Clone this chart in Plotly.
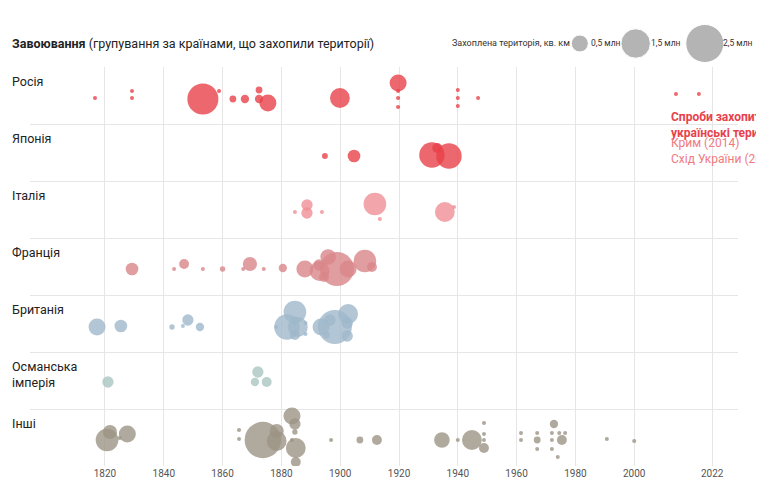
import plotly.graph_objects as go

rows = ["Росія", "Японія", "Італія", "Франція", "Британія", "Османська<br>імперія", "Інші"]
colors = ["#e8414a", "#e8414a", "#ef8f95", "#d9868a", "#9fb8cb", "#a9c6c2", "#9c9484"]

# (year, vertical offset in px from row baseline, area mln km2)
russia = [(1816.6,0,0.01),(1829.2,-7,0.02),(1829.2,0,0.02),(1853.3,1,1.67),(1858.8,-7,0.02),
          (1863.5,1,0.08),(1867.6,1,0.12),(1872.4,-8,0.08),(1872.4,1,0.12),(1875.4,5,0.5),
          (1899.9,0,0.68),(1919.7,-15,0.5),(1919.7,-7,0.03),(1919.7,0,0.03),(1919.7,9,0.03),
          (1940,-8,0.02),(1940,0,0.02),(1940,8,0.02),(1946.9,0,0.02),(2014.2,-4,0.02),(2022,-4,0.02)]
japan = [(1894.8,0,0.06),(1904.7,0,0.28),(1931.2,-1,1.12),(1933,-8,0.17),(1937,0,1.12)]
italy = [(1884.6,0,0.01),(1888.7,-7,0.22),(1888.7,1,0.22),(1893.8,0,0.01),(1911.8,-8,0.89),
         (1913.5,7,0.01),(1935.6,0,0.68),(1938.7,-5,0.03)]
france = [(1829.2,0,0.28),(1843.5,0,0.01),(1846.9,-5,0.17),(1853.3,0,0.01),(1860,0,0.05),
          (1867,0,0.01),(1869.3,-5,0.35),(1874,0,0.01),(1880.5,-1,0.12),(1888,0,0.5),
          (1892.8,-4,0.22),(1893,2,0.68),(1894.5,8,0.17),(1895.9,-12,0.42),(1898.9,0,2.0),
          (1902.7,0,0.5),(1908.4,-8,0.89),(1910.8,-2,0.17)]
britain = [(1817.3,0,0.5),(1825.4,-1,0.28),(1842.8,0,0.05),(1846.5,-1,0.01),(1848.2,-7,0.22),
           (1852.3,0,0.12),(1878.2,0,0.01),(1881.9,0,1.12),(1884.6,-15,0.89),(1884.6,-6,0.12),
           (1885.6,0,0.68),(1884.6,8,0.17),(1888.2,-4,0.02),(1888.2,7,0.03),(1893.5,0,0.5),
           (1896.5,-7,0.22),(1895.3,8,0.08),(1898.2,0,2.0),(1902.7,-13,0.68),(1902.4,-4,0.22),(1902.4,9,0.22)]
ottoman = [(1821,0,0.22),(1872,-10,0.22),(1871,0,0.12),(1875,0,0.17)]
others = [(1820.7,0,0.89),(1821.7,-8,0.35),(1825,-2,0.01),(1827.6,-6,0.5),(1865.6,-10,0.03),
          (1865.6,-1,0.02),(1873.7,0,2.3),(1878.4,-9,0.35),(1878.4,1,0.68),(1883.6,-24,0.5),
          (1884.6,-16,0.22),(1884.6,-8,0.05),(1883.6,0,0.03),(1884.9,8,0.68),(1884.9,22,0.17),
          (1886,35,0.05),(1896.9,0,0.01),(1906.7,0,0.08),(1912.5,0,0.17),(1934.6,0,0.42),
          (1940,0,0.02),(1944.8,0,0.68),(1948.9,-17,0.03),(1948.9,-6,0.02),(1948.9,0,0.005),(1948.9,8,0.17),
          (1961.5,-7,0.01),(1961.5,0,0.005),(1967,0,0.08),(1967,-7,0.005),(1967,9,0.01),(1972,-7,0.005),
          (1972,0,0.005),(1972.7,-16,0.12),(1975.4,0,0.17),(1974.5,-7,0.01),(1976.5,-7,0.01),
          (1972,9,0.01),(1974,17,0.005),(1990.7,-1,0.005),(2000,1,0.03)]
series = [russia, japan, italy, france, britain, ottoman, others]
baselines = [31, 32, 31, 31, 32, 30, 31]  # px from row top

xticks = [1820, 1840, 1860, 1880, 1900, 1920, 1940, 1960, 1980, 2000, 2026.5]
xticktext = ["1820", "1840", "1860", "1880", "1900", "1920", "1940", "1960", "1980", "2000", "2022"]
legend_vals = [0.5, 1.5, 2.5]
legend_labels = ["0,5 млн", "1,5 млн", "2,5 млн"]
legend_x = [1981.5, 2000.5, 2024]

ROWH = 57.0
SREF = 1 / 289.0
fig = go.Figure()
for i, s in enumerate(series):
    fig.add_trace(go.Scatter(
        x=[p[0] for p in s], y=[i + (baselines[i] + p[1]) / ROWH for p in s],
        mode="markers", hoverinfo="x",
        marker=dict(size=[p[2] for p in s], sizemode="area", sizeref=SREF, sizemin=2,
                    color=colors[i], opacity=0.8, line=dict(width=0)),
        showlegend=False))

fig.add_trace(go.Scatter(x=legend_x, y=[0.5] * 3, xaxis="x2", yaxis="y2", mode="markers",
                         marker=dict(size=legend_vals, sizemode="area", sizeref=SREF,
                                     color="#a8a8a8", opacity=0.85), showlegend=False,
                         hoverinfo="skip"))

ann = []
for i, r in enumerate(rows):
    ann.append(dict(x=0.0, xref="paper", xshift=-20, y=i + 0.08, yref="y", text=r, showarrow=False,
                    xanchor="left", yanchor="top", align="left",
                    font=dict(size=12.5, color="#222")))
ann.append(dict(xref="paper", x=0, xshift=-20, yref="y2", y=0.5, xanchor="left",
                text="<b>Завоювання</b> (групування за країнами, що захопили території)",
                showarrow=False, font=dict(size=12.5, color="#222")))
ann.append(dict(xref="x2", x=1979, yref="y2", y=0.5, xanchor="right",
                text="Захоплена територія, кв. км", showarrow=False,
                font=dict(size=9, color="#333")))
for lx, lt, lv in zip(legend_x, legend_labels, legend_vals):
    ann.append(dict(xref="x2", x=lx, xshift=(17 * lv ** 0.5) / 2 + 3, yref="y2", y=0.5,
                    xanchor="left", text=lt, showarrow=False, font=dict(size=8.5, color="#333")))
ann.append(dict(xref="x", x=2012, yref="y", y=0.72, xanchor="left", yanchor="top", align="left",
                text="<b>Спроби захопити<br>українські території</b>", showarrow=False,
                font=dict(size=12, color="#e8414a")))
ann.append(dict(xref="x", x=2012, yref="y", y=1.17, xanchor="left", yanchor="top", align="left",
                text="Крим (2014)<br>Схід України (2022)", showarrow=False,
                font=dict(size=12, color="#f07a80")))

fig.update_layout(
    width=764, height=499, margin=dict(l=22, r=34, t=0, b=41),
    paper_bgcolor="white", plot_bgcolor="white",
    font=dict(family="Roboto, sans-serif"),
    xaxis=dict(range=[1794.5, 2035.3], tickvals=xticks, ticktext=xticktext, showgrid=True,
               gridcolor="#e6e6e6", zeroline=False, showline=False, ticks="",
               tickfont=dict(size=10, color="#555"), fixedrange=True),
    yaxis=dict(domain=[0, 399 / 458], range=[7, 0], tickvals=list(range(8)), showticklabels=False,
               showgrid=True, gridcolor="#e6e6e6", zeroline=False, fixedrange=True),
    xaxis2=dict(range=[1794.5, 2035.3], anchor="y2", visible=False),
    yaxis2=dict(domain=[0.88, 0.965], range=[0, 1], visible=False, anchor="x2"),
    annotations=ann,
)
fig.write_html("out.html")
